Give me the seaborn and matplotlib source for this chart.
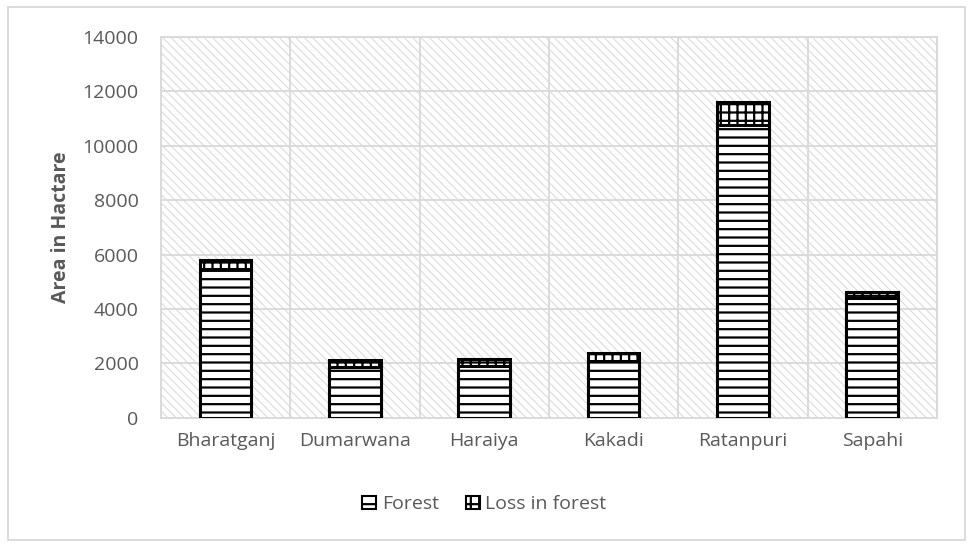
import pandas as pd
import seaborn as sns
import matplotlib.pyplot as plt
from matplotlib.patches import Patch, Rectangle

# values (hectare)
blocks = ["Bharatganj", "Dumarwana", "Haraiya", "Kakadi", "Ratanpuri", "Sapahi"]
forest = [5470, 1860, 1900, 2090, 10750, 4390]
loss = [330, 260, 270, 300, 860, 220]
yticks = [0, 2000, 4000, 6000, 8000, 10000, 12000, 14000]

df = pd.DataFrame({"Block": blocks, "Forest": forest, "Loss": loss})
df["Total"] = df["Forest"] + df["Loss"]

sns.set_style("white")
plt.rcParams["font.family"] = ["Open Sans", "DejaVu Sans"]
plt.rcParams["hatch.linewidth"] = 1.6

grey_txt = "#595959"
grid_col = "#d9d9d9"
fs = 14

fig, ax = plt.subplots(figsize=(9.69, 5.44), dpi=100)
fig.subplots_adjust(left=0.166, right=0.967, top=0.932, bottom=0.232)

# hatched plot-area background
ax.patch.set_facecolor("white")
ax.patch.set_edgecolor("#dcdcdc")
ax.patch.set_hatch("\\\\\\\\")
ax.patch.set_linewidth(0)
if hasattr(ax.patch, "set_hatch_linewidth"):
    ax.patch.set_hatch_linewidth(0.8)

# total first (loss on top), then forest over it
sns.barplot(data=df, x="Block", y="Total", color="white", edgecolor="black",
            linewidth=2.2, hatch="++", width=0.4, errorbar=None, ax=ax, zorder=3)
sns.barplot(data=df, x="Block", y="Forest", color="white", edgecolor="black",
            linewidth=2.2, hatch="--", width=0.4, errorbar=None, ax=ax, zorder=4)

ax.set_ylim(0, 14000)
ax.set_xlim(-0.5, len(blocks) - 0.5)
ax.set_yticks(yticks)
ax.set_yticklabels([str(v) for v in yticks])
ax.set_xticks(range(len(blocks)), minor=False)
ax.set_xticks([i - 0.5 for i in range(len(blocks) + 1)], minor=True)
ax.tick_params(axis="both", which="both", length=0, colors=grey_txt, labelsize=fs)
ax.tick_params(axis="x", pad=10)
ax.tick_params(axis="y", pad=16)
ax.grid(axis="y", color=grid_col, linewidth=1.3, zorder=1)
ax.grid(axis="x", which="minor", color=grid_col, linewidth=1.3, zorder=1)
ax.set_axisbelow(True)
for s in ax.spines.values():
    s.set_color(grid_col)
    s.set_linewidth(1.3)

ax.set_xlabel("")
ax.set_ylabel("Area in Hactare", color=grey_txt, fontsize=fs, fontweight="bold", labelpad=8)

handles = [Patch(facecolor="white", edgecolor="black", hatch="--", linewidth=1.5, label="Forest"),
           Patch(facecolor="white", edgecolor="black", hatch="++", linewidth=1.5, label="Loss in forest")]
fig.legend(handles=handles, loc="center", bbox_to_anchor=(0.5, 0.073), ncol=2, frameon=False,
           fontsize=fs, labelcolor=grey_txt, handlelength=0.7, handleheight=0.7,
           handletextpad=0.3, columnspacing=1.4)

# light outer border of the chart
fig.patches.append(Rectangle((0.008, 0.008), 0.988, 0.98, transform=fig.transFigure,
                             fill=False, edgecolor=grid_col, linewidth=1.3))

fig.savefig("out.png", dpi=100)
